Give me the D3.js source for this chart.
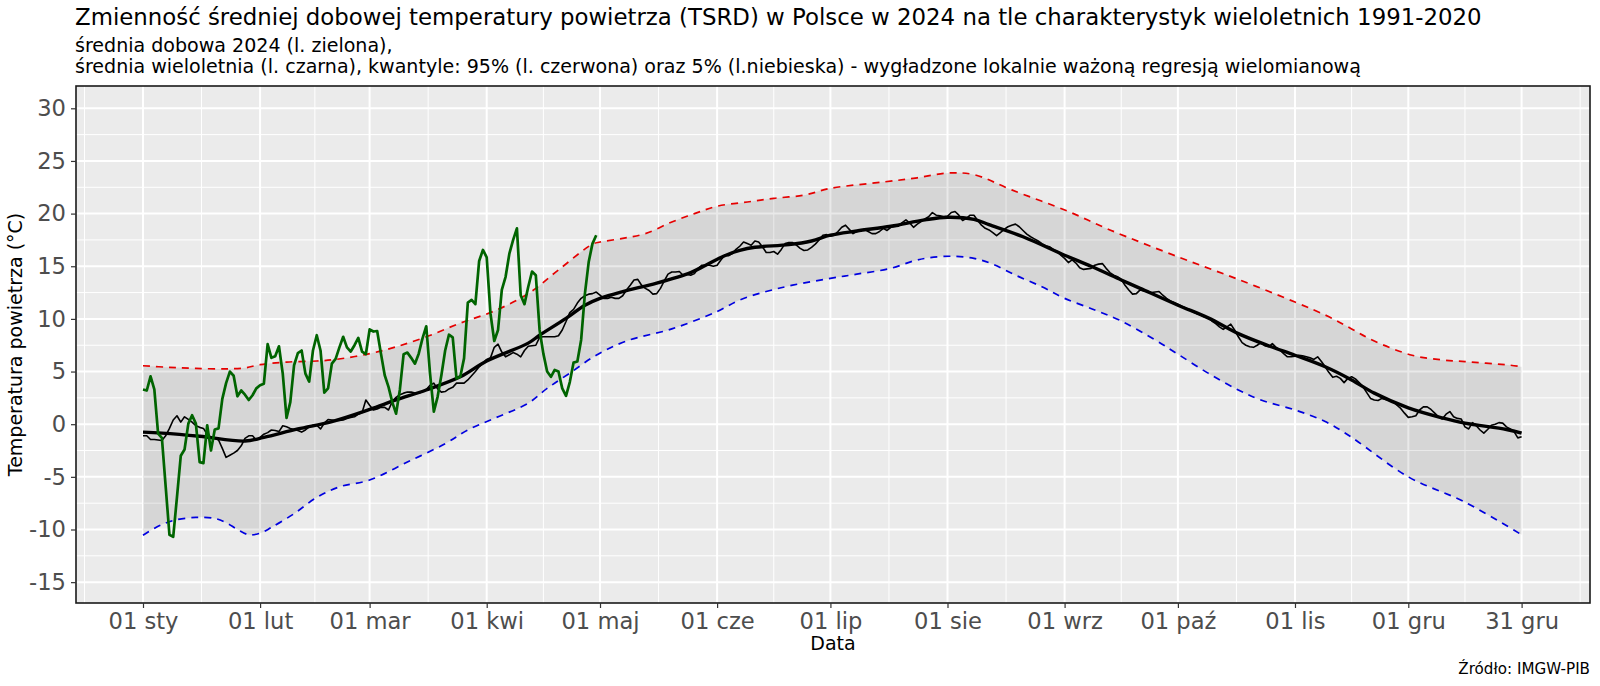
<!DOCTYPE html>
<html lang="pl">
<head>
<meta charset="utf-8">
<title>TSRD 2024</title>
<script src="https://cdn.jsdelivr.net/npm/d3@7"></script>
<style>
  html, body { margin: 0; padding: 0; background: #fff; }
  svg { display: block; font-family: "DejaVu Sans", sans-serif; }
</style>
</head>
<body>
<div id="chart"></div>
<script>
/* Osie */
var tickDays = [0, 31, 60, 91, 121, 152, 182, 213, 244, 274, 305, 335, 365];
var tickLabels = ["01 sty", "01 lut", "01 mar", "01 kwi", "01 maj", "01 cze", "01 lip",
  "01 sie", "01 wrz", "01 paź", "01 lis", "01 gru", "31 gru"];
var yTicks = [-15, -10, -5, 0, 5, 10, 15, 20, 25, 30];
var yMinorTicks = [-12.5, -7.5, -2.5, 2.5, 7.5, 12.5, 17.5, 22.5, 27.5];

/* Srednia dobowa 2024, od 1 stycznia do 30 kwietnia */
var daily2024 = [
  3.3, 3.2, 4.55, 3.3, -0.9, -1.3, -5.9, -10.5, -10.7, -6.9, -3.0, -2.4, 0.05, 0.85, 0.05, -3.6,
  -3.7, -0.1, -2.5, -0.5, -0.4, 2.4, 3.9, 5.0, 4.6, 2.65, 3.2, 2.8, 2.3, 2.75, 3.4, 3.7,
  3.85, 7.6, 6.3, 6.45, 7.4, 4.8, 0.6, 2.1, 5.6, 6.75, 7.0, 4.8, 4.05, 7.0, 8.45, 7.0,
  3.0, 3.4, 5.75, 6.2, 7.3, 8.3, 7.3, 6.9, 7.5, 8.2, 6.9, 6.65, 9.0, 8.8, 8.85, 6.7,
  4.65, 3.55, 2.1, 1.0, 3.25, 6.65, 6.8, 6.3, 5.75, 6.7, 8.15, 9.3, 4.8, 1.2, 2.6, 4.65,
  7.0, 8.5, 8.25, 4.35, 4.5, 6.25, 11.55, 11.8, 11.4, 15.5, 16.55, 15.85, 10.5, 7.9, 8.95, 12.75,
  14.0, 16.2, 17.5, 18.6, 12.25, 11.4, 13.05, 14.5, 14.15, 8.95, 6.7, 5.0, 4.5, 5.15, 5.0, 3.4,
  2.7, 4.0, 5.85, 5.95, 8.0, 12.4, 15.4, 17.15, 17.95
];

/* Srednia wieloletnia dla kazdego dnia roku */
var dailyMean = [
  -1.1, -1.1, -1.45, -1.45, -1.5, -1.55, -1.1, -0.4, 0.4, 0.8, 0.2, 0.7, 0.45, 0.2, -0.15, -0.3,
  -0.4, -0.95, -1.25, -1.3, -1.5, -2.3, -3.15, -2.95, -2.75, -2.5, -2.05, -1.35, -1.1, -1.1, -1.5, -1.25,
  -0.95, -0.8, -0.55, -0.6, -0.7, -0.15, -0.25, -0.4, -0.5, -0.6, -0.75, -0.55, -0.25, -0.1, -0.1, -0.45,
  0.1, 0.45, 0.4, 0.35, 0.35, 0.4, 0.55, 0.65, 0.7, 0.95, 1.1, 2.3, 1.8, 1.35, 1.45, 1.6,
  1.6, 1.35, 2.15, 2.55, 2.8, 2.95, 3.05, 3.05, 2.95, 2.95, 3.1, 3.3, 3.7, 3.9, 3.35, 3.05,
  3.1, 3.35, 3.5, 3.9, 3.9, 3.9, 4.2, 4.6, 5.0, 5.45, 5.8, 6.15, 6.3, 7.3, 7.6, 6.85,
  6.4, 6.6, 6.8, 6.65, 6.4, 7.0, 7.4, 7.45, 7.5, 8.25, 8.3, 8.3, 8.3, 8.3, 8.4, 8.95,
  9.75, 10.6, 10.9, 11.5, 11.95, 12.2, 12.35, 12.4, 12.55, 12.25, 11.95, 11.95, 12.05, 11.95, 11.95, 12.2,
  12.75, 13.2, 13.7, 13.75, 13.2, 12.9, 12.7, 12.35, 12.4, 12.9, 13.6, 14.25, 14.45, 14.45, 14.5, 14.15,
  14.25, 14.15, 14.3, 14.8, 15.1, 15.1, 15.1, 15.0, 15.1, 15.6, 16.05, 16.0, 16.2, 16.6, 16.9, 17.3,
  17.15, 17.0, 17.4, 17.3, 16.85, 16.3, 16.3, 16.4, 16.15, 16.6, 17.15, 17.25, 17.25, 17.0, 16.7, 16.5,
  16.55, 16.8, 17.1, 17.5, 17.95, 18.0, 17.85, 17.95, 18.3, 18.7, 18.9, 18.5, 18.1, 18.3, 18.4, 18.5,
  18.3, 18.1, 18.1, 18.3, 18.6, 18.4, 18.7, 18.75, 18.8, 19.15, 19.4, 19.1, 18.7, 19.0, 19.25, 19.5,
  19.7, 20.1, 19.85, 19.8, 19.7, 19.75, 20.1, 20.2, 19.85, 19.35, 19.55, 19.85, 19.85, 19.35, 18.9, 18.6,
  18.45, 18.2, 17.9, 18.2, 18.5, 18.75, 18.9, 19.0, 18.75, 18.4, 18.05, 17.8, 17.6, 17.4, 17.15, 16.95,
  16.85, 16.6, 16.4, 16.05, 15.75, 15.35, 15.6, 15.3, 14.85, 14.7, 14.75, 14.8, 15.1, 15.2, 15.25, 14.8,
  14.4, 14.15, 14.0, 13.75, 13.2, 12.75, 12.35, 12.4, 12.75, 12.65, 12.6, 12.5, 12.55, 12.6, 12.25, 11.95,
  11.7, 11.55, 11.4, 11.2, 11.05, 10.9, 10.65, 10.5, 10.4, 10.2, 10.1, 9.8, 9.55, 9.25, 9.0, 9.25,
  9.5, 8.95, 8.3, 7.75, 7.5, 7.35, 7.3, 7.5, 7.75, 7.45, 7.35, 7.65, 7.3, 7.05, 6.7, 6.4,
  6.4, 6.45, 6.55, 6.5, 6.4, 6.3, 6.15, 6.4, 5.95, 5.45, 4.9, 4.45, 4.55, 4.35, 3.95, 4.35,
  4.5, 4.3, 3.95, 3.55, 3.0, 2.45, 2.3, 2.25, 2.45, 2.35, 2.25, 2.15, 1.8, 1.5, 1.05, 0.65,
  0.7, 0.8, 1.35, 1.65, 1.65, 1.4, 1.05, 0.7, 0.5, 0.95, 1.2, 0.7, 0.55, 0.5, -0.25, -0.45,
  0.15, -0.15, -0.55, -0.85, -0.5, -0.1, 0, 0.15, 0.1, -0.25, -0.45, -0.7, -1.3, -1.2
];

/* Krzywe wygladzone */
var meanDays = [0, 5, 15, 27, 32, 41, 50, 60, 67, 75, 84, 91, 102, 105, 112, 117, 121, 127, 136, 145,
  149, 154, 158, 162, 171, 177, 182, 189, 198, 207, 213, 220, 224, 233, 244, 251, 259, 264, 274, 282,
  290, 298, 305, 313, 320, 326, 335, 344, 350, 361, 365];
var meanSmooth = [-0.75, -0.85, -1.15, -1.6, -1.25, -0.45, 0.25, 1.4, 2.3, 3.25, 4.5, 6.0, 7.7, 8.45, 10.05, 11.3, 11.95, 12.6, 13.4, 14.4,
  15.1, 16.0, 16.5, 16.8, 17.05, 17.4, 17.95, 18.35, 18.8, 19.4, 19.65, 19.45, 18.95, 17.8, 16.05, 15.0, 13.7, 12.9, 11.3, 10.1,
  8.6, 7.45, 6.55, 5.45, 4.2, 2.95, 1.55, 0.6, 0.1, -0.5, -0.85];

var q95Days = [0, 7, 14, 22, 27, 31, 38, 46, 51, 60, 67, 75, 84, 93, 102, 110, 119, 121, 127, 133, 140,
  146, 152, 160, 167, 175, 182, 196, 205, 213, 220, 230, 245, 256, 274, 290, 305, 314, 320, 326, 336, 344, 350, 362, 365];
var q95 = [5.55, 5.4, 5.3, 5.25, 5.35, 5.65, 5.9, 6.0, 6.15, 6.7, 7.35, 8.3, 9.6, 10.75, 12.4, 14.65, 17.1, 17.3, 17.65, 18.1, 19.2,
  20.0, 20.7, 21.1, 21.45, 21.75, 22.4, 23.0, 23.4, 23.85, 23.7, 22.25, 20.2, 18.45, 15.9, 13.75, 11.6, 10.2, 9.05, 7.9, 6.55, 6.1, 5.95, 5.6, 5.45];

var q05Days = [0, 4, 8, 14, 19, 22, 25, 28, 31, 34, 40, 46, 52, 60, 70, 80, 86, 93, 102, 107, 113, 120, 128, 140, 152, 158, 165, 172, 182,
  189, 198, 204, 208, 214, 220, 225, 231, 238, 244, 252, 259, 268, 274, 282, 290, 296, 305, 313, 320, 335, 350, 365];
var q05 = [-10.55, -9.7, -9.15, -8.85, -8.95, -9.35, -10.0, -10.5, -10.35, -9.8, -8.5, -6.95, -5.95, -5.3, -3.6, -1.85, -0.55, 0.55, 2.0, 3.4, 4.85, 6.55, 7.9, 9.05, 10.7, 11.8, 12.6, 13.2, 13.85,
  14.25, 14.8, 15.5, 15.8, 15.95, 15.75, 15.2, 14.15, 13.05, 11.95, 10.85, 9.8, 8.0, 6.65, 4.85, 3.25, 2.3, 1.35, 0.25, -1.25, -5.0, -7.4, -10.5];

var titleText = "Zmienność średniej dobowej temperatury powietrza (TSRD) w Polsce w 2024 na tle charakterystyk wieloletnich 1991-2020";
var subtitleLines = ["średnia dobowa 2024 (l. zielona),",
  "średnia wieloletnia (l. czarna), kwantyle: 95% (l. czerwona) oraz 5% (l.niebieska) - wygładzone lokalnie ważoną regresją wielomianową"];

var W = 1600, H = 686;
var panel = { left: 76, right: 1590, top: 86, bottom: 603 };

var x = d3.scaleLinear()
  .domain([(panel.left - 143) / 3.777, (panel.right - 143) / 3.777])
  .range([panel.left, panel.right]);
var y = d3.scaleLinear()
  .domain([(424.2 - panel.bottom) / 10.53, (424.2 - panel.top) / 10.53])
  .range([panel.bottom, panel.top]);

var svg = d3.select("#chart").append("svg")
  .attr("width", W).attr("height", H)
  .attr("viewBox", "0 0 " + W + " " + H);

/* ---- Panel and grid ---- */
svg.append("rect")
  .attr("x", panel.left).attr("y", panel.top)
  .attr("width", panel.right - panel.left).attr("height", panel.bottom - panel.top)
  .attr("fill", "#ebebeb");

var xMinor = [-15.5, 380.5];
tickDays.slice(1).forEach(function (d, i) { xMinor.push((d + tickDays[i]) / 2); });

var grid = svg.append("g").attr("fill", "none").attr("stroke", "#fff");
xMinor.forEach(function (d) {
  grid.append("line").attr("x1", x(d)).attr("x2", x(d))
    .attr("y1", panel.top).attr("y2", panel.bottom).attr("stroke-width", 1);
});
yMinorTicks.forEach(function (v) {
  grid.append("line").attr("y1", y(v)).attr("y2", y(v))
    .attr("x1", panel.left).attr("x2", panel.right).attr("stroke-width", 1);
});
tickDays.forEach(function (d) {
  grid.append("line").attr("x1", x(d)).attr("x2", x(d))
    .attr("y1", panel.top).attr("y2", panel.bottom).attr("stroke-width", 2);
});
yTicks.forEach(function (v) {
  grid.append("line").attr("y1", y(v)).attr("y2", y(v))
    .attr("x1", panel.left).attr("x2", panel.right).attr("stroke-width", 2);
});

/* ---- Ribbon and lines ---- */
function pairs(days, values) {
  return days.map(function (d, i) { return [d, values[i]]; });
}
var curveLine = d3.line()
  .x(function (d) { return x(d[0]); })
  .y(function (d) { return y(d[1]); })
  .curve(d3.curveCatmullRom.alpha(0.5));
var plainLine = d3.line()
  .x(function (d) { return x(d[0]); })
  .y(function (d) { return y(d[1]); });

var upper = pairs(q95Days, q95);
var lower = pairs(q05Days, q05).reverse();
svg.append("path")
  .attr("d", curveLine(upper) + "L" + curveLine(lower).slice(1) + "Z")
  .attr("fill", "#000").attr("fill-opacity", 0.085);

function drawLine(path, col, sw, dash) {
  svg.append("path")
    .attr("d", path)
    .attr("fill", "none")
    .attr("stroke", col)
    .attr("stroke-width", sw)
    .attr("stroke-linejoin", "round")
    .attr("stroke-dasharray", dash || null);
}
var allDays = d3.range(dailyMean.length);
drawLine(plainLine(pairs(allDays, dailyMean)), "#000", 1.6);
drawLine(curveLine(pairs(meanDays, meanSmooth)), "#000", 3.4);
drawLine(curveLine(upper), "#e60000", 1.7, "7 6");
drawLine(curveLine(pairs(q05Days, q05)), "#0000e0", 1.7, "7 6");
drawLine(plainLine(pairs(d3.range(daily2024.length), daily2024)), "#006400", 2.7);

/* ---- Border and axes ---- */
svg.append("rect")
  .attr("x", panel.left).attr("y", panel.top)
  .attr("width", panel.right - panel.left).attr("height", panel.bottom - panel.top)
  .attr("fill", "none").attr("stroke", "#1a1a1a").attr("stroke-width", 1.6);

var xAxis = d3.axisBottom(x)
  .tickValues(tickDays)
  .tickSize(5).tickPadding(5)
  .tickFormat(function (d, i) { return tickLabels[i]; });
var yAxis = d3.axisLeft(y)
  .tickValues(yTicks)
  .tickSize(5).tickPadding(5)
  .tickFormat(function (d) { return String(d); });

function styleAxis(g) {
  g.select(".domain").remove();
  g.selectAll(".tick line").attr("stroke", "#333").attr("stroke-width", 1.2);
  g.selectAll(".tick text")
    .attr("fill", "#4d4d4d")
    .style("font-family", "'DejaVu Sans', sans-serif")
    .style("font-size", "22.6px");
}
svg.append("g").attr("transform", "translate(0," + panel.bottom + ")").call(xAxis).call(styleAxis);
svg.append("g").attr("transform", "translate(" + panel.left + ",0)").call(yAxis).call(styleAxis);

/* ---- Text ---- */
svg.append("text").attr("x", 75).attr("y", 25)
  .attr("font-size", 22.85).attr("fill", "#000").text(titleText);
svg.append("text").attr("x", 75).attr("y", 52)
  .attr("font-size", 19.06).attr("fill", "#000").text(subtitleLines[0]);
svg.append("text").attr("x", 75).attr("y", 73)
  .attr("font-size", 19.06).attr("fill", "#000").text(subtitleLines[1]);

svg.append("text")
  .attr("x", (panel.left + panel.right) / 2).attr("y", 650)
  .attr("text-anchor", "middle").attr("font-size", 19).attr("fill", "#000")
  .text("Data");
svg.append("text")
  .attr("transform", "translate(22," + (panel.top + panel.bottom) / 2 + ") rotate(-90)")
  .attr("text-anchor", "middle").attr("font-size", 19).attr("fill", "#000")
  .text("Temperatura powietrza (°C)");
svg.append("text")
  .attr("x", panel.right).attr("y", 674)
  .attr("text-anchor", "end").attr("font-size", 15.15).attr("fill", "#000")
  .text("Źródło: IMGW-PIB");
</script>
</body>
</html>
